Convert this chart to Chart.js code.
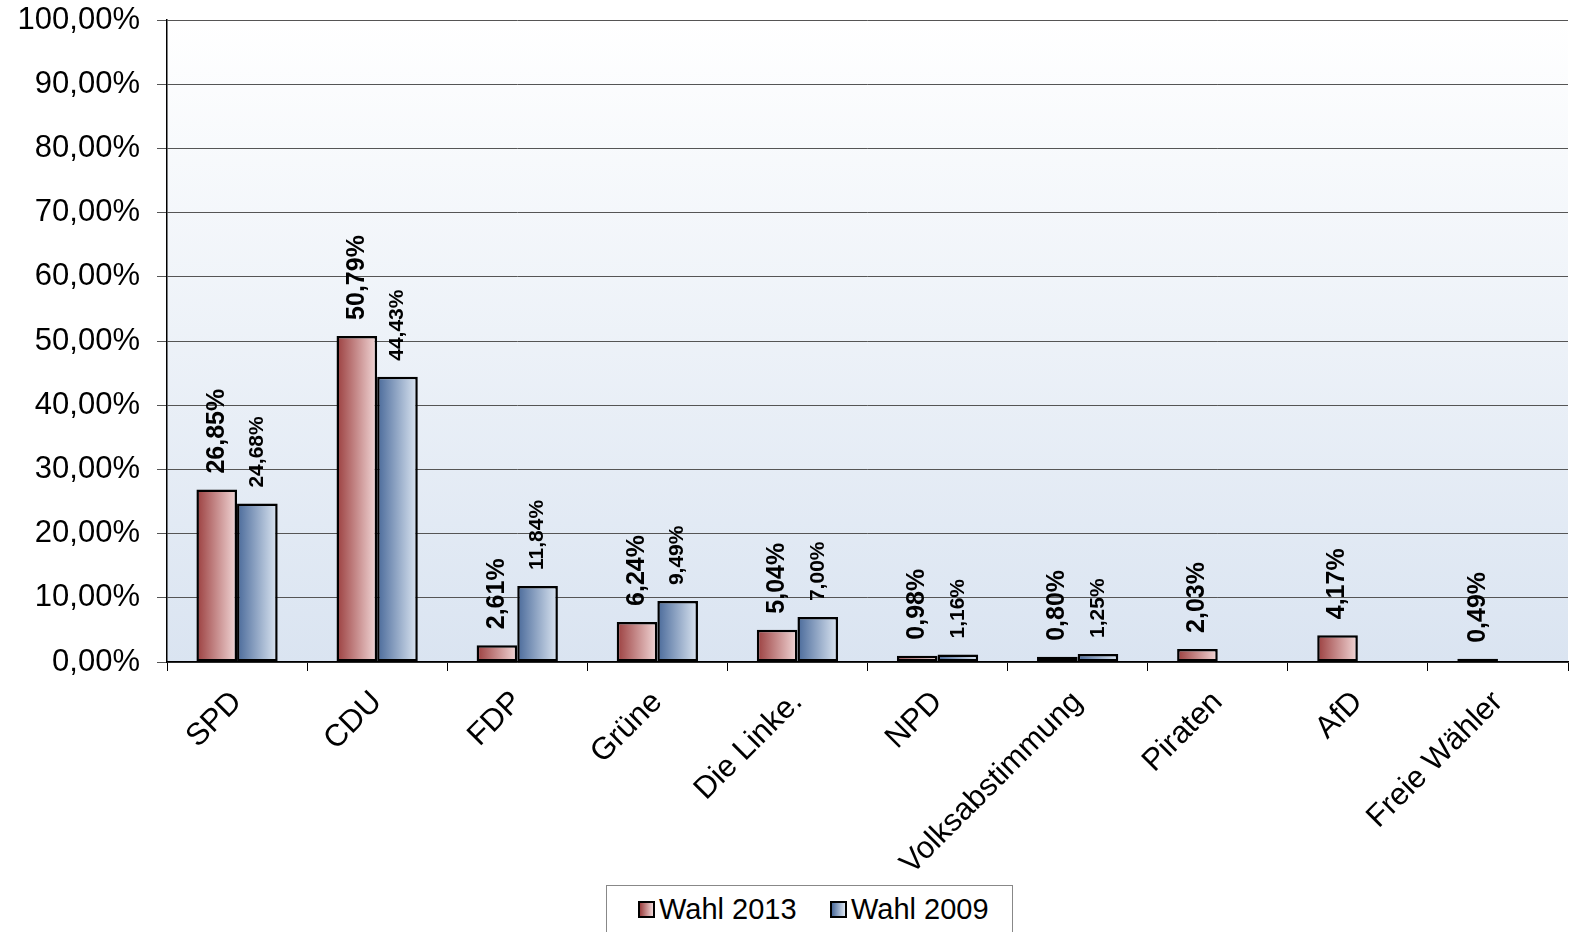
<!DOCTYPE html>
<html>
<head>
<meta charset="utf-8">
<script src="https://cdn.jsdelivr.net/npm/chart.js@4"></script>
<style>
  html, body { margin: 0; padding: 0; background: #fff; }
  #wrap { position: relative; width: 1570px; height: 932px; }
  #legend {
    position: absolute; left: 606px; top: 885px; width: 407px; height: 60px;
    border: 1px solid #888; background: #fff; box-sizing: border-box;
    font-family: "Liberation Sans", Arial, sans-serif; font-size: 29px; color: #000;
  }
  #legend span.item { position: absolute; top: 7px; white-space: nowrap; }
  #legend i { display: inline-block; width: 13px; height: 13px; border: 2px solid #000; margin-right: 4px; vertical-align: 1px; }
</style>
</head>
<body>
<div id="wrap">
  <canvas id="chart" width="1570" height="932"></canvas>
  <div id="legend">
    <span class="item" style="left:31px"><i style="background:linear-gradient(to right,#9b3f3f,#f2d8d8)"></i>Wahl 2013</span>
    <span class="item" style="left:223px"><i style="background:linear-gradient(to right,#4a6a9a,#dce6f2)"></i>Wahl 2009</span>
  </div>
</div>
<script>
// chart data
const parties = ["SPD", "CDU", "FDP", "Grüne", "Die Linke.", "NPD", "Volksabstimmung", "Piraten", "AfD", "Freie Wähler"];
const wahl2013 = [26.85, 50.79, 2.61, 6.24, 5.04, 0.98, 0.80, 2.03, 4.17, 0.49];
const wahl2009 = [24.68, 44.43, 11.84, 9.49, 7.00, 1.16, 1.25, null, null, null];
const yTicks = [0, 10, 20, 30, 40, 50, 60, 70, 80, 90, 100];

const gradStops = [
  ["#9b3f3f", "#f2d8d8"],
  ["#4a6a9a", "#dce6f2"]
];

function fmt(v) {
  return v.toFixed(2).replace(".", ",") + "%";
}

// light background gradient behind the plot
const bgPlugin = {
  id: "bg",
  beforeDraw(chart) {
    const { ctx, chartArea: a } = chart;
    const g = ctx.createLinearGradient(0, a.top, 0, a.bottom);
    g.addColorStop(0, "#ffffff");
    g.addColorStop(1, "#dae4f1");
    ctx.save();
    ctx.fillStyle = g;
    ctx.fillRect(a.left, a.top, a.right - a.left, a.bottom - a.top);
    ctx.restore();
  },
  // horizontal gradient for every bar
  beforeDatasetsDraw(chart) {
    const ctx = chart.ctx;
    chart.data.datasets.forEach((ds, di) => {
      chart.getDatasetMeta(di).data.forEach((el) => {
        const x0 = el.x - el.width / 2;
        const g = ctx.createLinearGradient(x0, 0, x0 + el.width, 0);
        g.addColorStop(0, gradStops[di][0]);
        g.addColorStop(1, gradStops[di][1]);
        el.options.backgroundColor = g;
      });
    });
  }
};

// vertical value labels above bars
const labelPlugin = {
  id: "vals",
  afterDatasetsDraw(chart) {
    const ctx = chart.ctx;
    chart.data.datasets.forEach((ds, di) => {
      chart.getDatasetMeta(di).data.forEach((el, i) => {
        const v = ds.data[i];
        if (v == null) return;
        ctx.save();
        ctx.translate(el.x, el.y - 16);
        ctx.rotate(-Math.PI / 2);
        ctx.font = "bold " + (di === 0 ? 25 : 21) + "px 'Liberation Sans', Arial, sans-serif";
        ctx.fillStyle = "#000";
        ctx.textAlign = "left";
        ctx.textBaseline = "middle";
        ctx.fillText(fmt(v), 0, 0);
        ctx.restore();
      });
    });
  }
};

new Chart(document.getElementById("chart"), {
  type: "bar",
  data: {
    labels: parties,
    datasets: [
      { label: "Wahl 2013", data: wahl2013, backgroundColor: () => "#c98080", borderColor: "#000", borderWidth: 2.5, borderSkipped: false },
      { label: "Wahl 2009", data: wahl2009, backgroundColor: () => "#8aa0c0", borderColor: "#000", borderWidth: 2.5, borderSkipped: false }
    ]
  },
  options: {
    responsive: false,
    animation: false,
    layout: { padding: { top: 20, right: 2, left: 0, bottom: 0 } },
    plugins: {
      legend: { display: false },
      tooltip: { enabled: false }
    },
    datasets: { bar: { categoryPercentage: 0.58, barPercentage: 1 } },
    scales: {
      x: {
        afterFit(scale) { scale.height = 270; },
        grid: { drawOnChartArea: false, offset: true, color: "#000", tickLength: 9, lineWidth: 1 },
        border: { color: "#000", width: 1.5 },
        ticks: {
          maxRotation: 45, minRotation: 45, autoSkip: false,
          color: "#000", padding: 13,
          font: { family: "'Liberation Sans', Arial, sans-serif", size: 31 }
        }
      },
      y: {
        min: 0, max: 100,
        afterFit(scale) {
          scale.width = 167;
          scale.paddingTop = 0;
          scale.paddingBottom = 0;
        },
        afterBuildTicks(scale) { scale.ticks = yTicks.map((v) => ({ value: v })); },
        grid: { color: "#555", lineWidth: 1, tickLength: 10 },
        border: { color: "#000", width: 1.5 },
        ticks: {
          color: "#000", padding: 17,
          font: { family: "'Liberation Sans', Arial, sans-serif", size: 31 },
          callback: (v) => fmt(v)
        }
      }
    }
  },
  plugins: [bgPlugin, labelPlugin]
});
</script>
</body>
</html>
